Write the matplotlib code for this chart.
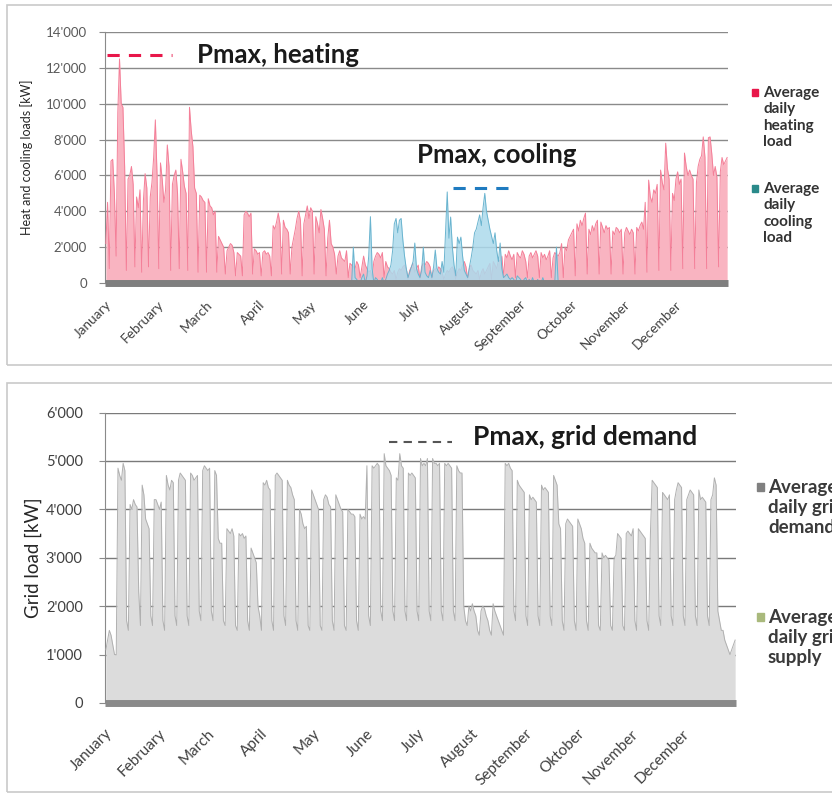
import numpy as np
import matplotlib
matplotlib.use("Agg")
import matplotlib.pyplot as plt
from matplotlib.patches import Rectangle

plt.rcParams['font.family'] = ['Lato', 'DejaVu Sans']

# ---------------- data ----------------
months_top = ["January", "February", "March", "April", "May", "June", "July",
              "August", "September", "October", "November", "December"]
months_bottom = ["January", "February", "March", "April", "May", "June", "July",
                 "August", "September", "Oktober", "November", "December"]
month_start_day = [0, 31, 59, 90, 120, 151, 181, 212, 243, 273, 304, 334]

top_yticks = [0, 2000, 4000, 6000, 8000, 10000, 12000, 14000]
top_yticklabels = ["0", "2'000", "4'000", "6'000", "8'000", "10'000", "12'000", "14'000"]
bottom_yticks = [0, 1000, 2000, 3000, 4000, 5000, 6000]
bottom_yticklabels = ["0", "1'000", "2'000", "3'000", "4'000", "5'000", "6'000"]

# average daily heating load [kW], one value per day
heating = [
    2200, 4500, 800, 6800, 6900, 5000, 1500,
    9500, 12500, 10000, 9800, 6500, 700, 5800,
    6000, 6500, 5500, 900, 4800, 4200, 5200,
    600, 4600, 6100, 5300, 900, 4800, 5600,
    7000, 9100, 6000, 800, 6700, 5800, 4500,
    5200, 7700, 6500, 700, 5500, 6000, 6300,
    5000, 800, 6900, 6200, 5400, 5000, 700,
    9800, 8500, 7600, 5300, 5000, 600, 4900,
    4800, 4600, 4500, 600, 4700, 4300, 4200,
    3800, 4000, 600, 2600, 2400, 2200, 2000,
    500, 1800, 2000, 2200, 2100, 1700, 400,
    1700, 1600, 1500, 400, 3800, 4000, 3900,
    3700, 3900, 500, 1900, 1800, 1600, 1700,
    400, 1700, 1800, 1600, 1700, 1500, 400,
    3200, 3000, 3400, 3900, 3300, 500, 3500,
    3100, 3000, 2800, 500, 2000, 2500, 3000,
    3600, 4000, 3500, 400, 3300, 3800, 4300,
    3600, 4200, 4000, 500, 3700, 3300, 2800,
    4100, 3600, 3000, 400, 2500, 3500, 2200,
    2000, 1600, 500, 1500, 1800, 1400, 1300,
    1200, 1800, 300, 1100, 1000, 900, 800,
    1200, 1000, 300, 900, 1500, 1000, 800,
    600, 700, 300, 1200, 1500, 1700, 1600,
    1400, 1700, 300, 1200, 900, 800, 600,
    500, 700, 200, 600, 800, 700, 900,
    1000, 800, 200, 700, 900, 1100, 600,
    800, 1000, 200, 900, 1100, 1000, 1200,
    1100, 900, 200, 700, 800, 600, 900,
    800, 600, 200, 500, 700, 600, 800,
    900, 700, 200, 600, 800, 700, 1000,
    1200, 900, 200, 800, 1000, 700, 600,
    500, 700, 200, 600, 800, 500, 700,
    900, 1100, 200, 1200, 1000, 800, 1300,
    1200, 1500, 300, 1600, 1400, 1800, 1500,
    1300, 1600, 300, 1700, 1500, 1400, 1800,
    1600, 1200, 300, 1500, 1700, 1400, 1600,
    1800, 1500, 300, 1700, 1400, 1600, 1300,
    1500, 1800, 300, 1400, 1700, 1600, 1500,
    1700, 2200, 300, 2000, 1800, 2400, 2600,
    2800, 3000, 400, 3300, 2900, 3500, 3200,
    3600, 3900, 500, 3000, 2700, 3200, 2900,
    3300, 3500, 500, 3400, 3100, 2800, 3200,
    3000, 3100, 500, 2900, 2700, 3100, 3000,
    2800, 3000, 500, 2800, 3100, 2900, 2700,
    3000, 2800, 500, 3100, 2900, 3200, 3400,
    3000, 4500, 600, 5740, 4800, 4500, 5200,
    5000, 5500, 700, 6300, 5600, 5200, 7800,
    6400, 5800, 700, 5000, 4600, 5800, 6200,
    5500, 5800, 800, 7250, 6500, 6000, 6300,
    6000, 5800, 800, 5600, 6500, 6900, 7100,
    8150, 7000, 800, 8100, 8150, 7200, 6000,
    6500, 5900, 900, 6200, 7000, 6600, 6800,
    7000,
]

# average daily cooling load [kW], days 140..265 (zero otherwise)
cooling_first_day = 140
cooling = [
    0, 0, 0, 0, 0, 2000, 300,
    200, 0, 0, 300, 500, 0, 400,
    1500, 3700, 800, 0, 300, 200, 0,
    0, 300, 0, 200, 500, 700, 1000,
    1800, 3300, 3600, 2800, 3500, 3600, 2400,
    1500, 800, 300, 600, 900, 1200, 2230,
    800, 500, 300, 700, 2000, 600, 400,
    300, 700, 300, 900, 1840, 800, 600,
    500, 1200, 600, 2800, 5080, 2500, 3680,
    2000, 1000, 400, 2560, 2200, 2560, 1500,
    700, 500, 300, 900, 1400, 2000, 2800,
    3000, 3400, 3800, 3200, 4200, 5000, 4000,
    3500, 3000, 2600, 2200, 2800, 1800, 1200,
    2230, 800, 300, 400, 500, 300, 200,
    300, 200, 0, 400, 300, 200, 0,
    200, 300, 0, 200, 0, 300, 0,
    0, 200, 0, 0, 300, 0, 0,
    0, 0, 0, 0, 0, 2000, 0,
]

# average daily grid demand [kW], one value per day
grid = [
    1100, 1300, 1500, 1400, 1200, 1000, 1000,
    4850, 4700, 4600, 4950, 4800, 1700, 1500,
    4100, 4000, 4200, 4100, 4050, 2300, 1600,
    4500, 4300, 3800, 3700, 3600, 1800, 1600,
    4200, 4200, 4100, 4000, 4150, 1700, 1500,
    4700, 4500, 4400, 4600, 4550, 1800, 1600,
    4600, 4750, 4700, 4650, 4600, 1800, 1600,
    4750, 4700, 4600, 4650, 4700, 1900, 1700,
    4800, 4900, 4850, 4800, 4850, 1900, 1700,
    4800, 4700, 3400, 3300, 3300, 1700, 1600,
    3600, 3550, 3500, 3600, 3450, 1600, 1500,
    3500, 3450, 3500, 3400, 3450, 1700, 1500,
    3200, 3100, 3000, 2900, 2000, 1800, 1500,
    4550, 4500, 4600, 4450, 4400, 1700, 1500,
    4700, 4750, 4700, 4650, 4600, 1800, 1600,
    4600, 4500, 4450, 4300, 4200, 1700, 1500,
    4000, 3900, 3700, 3600, 3650, 1600, 1500,
    4400, 4300, 4200, 4100, 4000, 1600, 1500,
    4200, 4300, 4250, 4100, 4050, 1700, 1500,
    4300, 4200, 4100, 4000, 3950, 1600, 1500,
    4000, 3950, 3900, 3900, 3850, 1700, 1500,
    3900, 3800, 3850, 3800, 4900, 1800, 1600,
    4900, 4850, 4900, 4950, 4900, 1900, 1700,
    5150, 4900, 4850, 4800, 4700, 1900, 1700,
    4650, 4600, 5150, 4900, 4850, 1900, 1700,
    4750, 4700, 4750, 4700, 4650, 1900, 1700,
    5050, 4900, 4950, 4900, 5050, 1900, 1700,
    5050, 4950, 4950, 4900, 4950, 1900, 1700,
    4950, 4900, 4950, 4900, 4850, 1900, 1700,
    4900, 4800, 4750, 4750, 2000, 1700, 1600,
    2000, 1900, 2050, 1900, 1800, 1500, 1400,
    1900, 2000, 1950, 1800, 1700, 1500, 1400,
    2050, 1900, 1800, 1700, 1600, 1500, 1400,
    4950, 4900, 4950, 4850, 4800, 1900, 1700,
    4600, 4500, 4450, 4400, 4350, 1800, 1600,
    4300, 4200, 4250, 4200, 4150, 1800, 1600,
    4500, 4400, 4450, 4400, 4350, 1800, 1600,
    4700, 4600, 4500, 3700, 3600, 1700, 1500,
    3700, 3800, 3750, 3700, 3650, 1700, 1500,
    3800, 3700, 3600, 3400, 3300, 1700, 1500,
    3300, 3200, 3150, 3100, 3100, 1600, 1500,
    3100, 3000, 3050, 3000, 2950, 1600, 1500,
    3000, 3050, 3500, 3450, 3400, 1600, 1500,
    3500, 3550, 3500, 3450, 3600, 1700, 1500,
    3600, 3550, 3500, 3450, 3400, 1700, 1500,
    3500, 4600, 4550, 4500, 4450, 1800, 1600,
    4350, 4300, 4250, 4200, 4300, 1800, 1600,
    4200, 4400, 4550, 4500, 4450, 1800, 1600,
    4200, 4300, 4400, 4350, 4300, 1800, 1600,
    4400, 4200, 4250, 4200, 4150, 1800, 1600,
    4200, 4300, 4650, 4500, 1900, 1700, 1500,
    1500, 1300, 1200, 1100, 1000, 1100, 1200,
    1300,
]

pmax_heating = 12700
pmax_cooling = 5300
pmax_grid = 5400

# ---------------- figure ----------------
W, H = 832, 794
fig = plt.figure(figsize=(W / 100, H / 100), dpi=100)
fig.patch.set_facecolor("white")


def fx(px):
    return px / W


def fy(py):
    return 1 - py / H


# panel frames
fig.patches.append(Rectangle((fx(7), fy(365)), fx(900 - 7), (365 - 5) / H,
                             transform=fig.transFigure, fill=False,
                             edgecolor="#c9c9c9", lw=1.2))
fig.patches.append(Rectangle((fx(7), fy(792)), fx(900 - 7), (792 - 383) / H,
                             transform=fig.transFigure, fill=False,
                             edgecolor="#c9c9c9", lw=1.2))

n_days = len(heating)
days = np.arange(n_days) + 0.5

# ---------------- top panel ----------------
ax1 = fig.add_axes([fx(105), fy(283), fx(728 - 105), (283 - 32) / H])
ax1.set_xlim(0, 365)
ax1.set_ylim(0, 14000)
for v in top_yticks:
    ax1.axhline(v, color="#8a8a8a", lw=1.0, zorder=1)

heat = np.array(heating, dtype=float)
ax1.fill_between(days, heat, color="#f9b4c1", lw=0, zorder=2)
ax1.plot(days, heat, color="#f47f98", lw=0.7, zorder=3)

cd = np.arange(cooling_first_day, cooling_first_day + len(cooling)) + 0.5
ax1.fill_between(cd, cooling, color="#acdaec", lw=0, alpha=0.85, zorder=4)
ax1.plot(cd, cooling, color="#6ab4cf", lw=0.7, zorder=5)

ax1.plot([0, 365], [0, 0], color="#7f7f7f", lw=5, zorder=6, clip_on=False,
         solid_capstyle="butt")

ax1.plot([1, 39], [pmax_heating, pmax_heating], color="#e8174a", lw=2.2,
         dashes=(4, 3), zorder=7)
ax1.plot([204, 241], [pmax_cooling, pmax_cooling], color="#1f7bc0", lw=2.2,
         dashes=(4, 3), zorder=7)
ax1.text(54, pmax_heating, "Pmax, heating", fontsize=18.5, fontweight="bold",
         color="#1a1a1a", va="center", ha="left", zorder=8)
ax1.text(183, 7150, "Pmax, cooling", fontsize=18.5, fontweight="bold",
         color="#1a1a1a", va="center", ha="left", zorder=8)

ax1.set_yticks(top_yticks)
ax1.set_yticklabels(top_yticklabels, fontsize=9.5, color="#595959")
ax1.set_xticks(month_start_day)
ax1.set_xticklabels(months_top, rotation=45, ha="right", rotation_mode="anchor",
                    fontsize=9.8, color="#404040")
ax1.tick_params(axis="y", length=4, color="#8a8a8a", pad=9)
ax1.tick_params(axis="x", length=0, pad=11)
for s in ["top", "right", "bottom"]:
    ax1.spines[s].set_visible(False)
ax1.spines["left"].set_color("#8a8a8a")
ax1.set_ylabel("Heat and cooling loads [kW]", fontsize=9, color="#262626",
               labelpad=9)
ax1.set_facecolor("none")

# top legend
fig.patches.append(Rectangle((fx(752), fy(96)), fx(6), 7 / H,
                             transform=fig.transFigure, color="#e8174a"))
fig.text(fx(763), fy(86), "Average\ndaily\nheating\nload", fontsize=11,
         fontweight="bold", color="#333333", va="top", ha="left",
         linespacing=1.22)
fig.patches.append(Rectangle((fx(752), fy(192)), fx(6), 7 / H,
                             transform=fig.transFigure, color="#2a8a8a"))
fig.text(fx(763), fy(182), "Average\ndaily\ncooling\nload", fontsize=11,
         fontweight="bold", color="#333333", va="top", ha="left",
         linespacing=1.22)

# ---------------- bottom panel ----------------
ax2 = fig.add_axes([fx(105), fy(703), fx(736 - 105), (703 - 412.5) / H])
ax2.set_xlim(0, 365)
ax2.set_ylim(0, 6000)
for v in bottom_yticks:
    ax2.axhline(v, color="#7a7a7a", lw=1.0, zorder=1)

g = np.array(grid, dtype=float)
ax2.fill_between(days, g, color="#dcdcdc", lw=0, zorder=2)
ax2.plot(days, g, color="#b0b0b0", lw=0.7, zorder=3)
ax2.plot([0, 365], [0, 0], color="#8a8a8a", lw=5, zorder=6, clip_on=False,
         solid_capstyle="butt")

ax2.plot([164, 201], [pmax_grid, pmax_grid], color="#555555", lw=1.5,
         dashes=(4, 3), zorder=7)
ax2.text(213, 5500, "Pmax, grid demand", fontsize=19, fontweight="bold",
         color="#1a1a1a", va="center", ha="left", zorder=8)

ax2.set_yticks(bottom_yticks)
ax2.set_yticklabels(bottom_yticklabels, fontsize=10.5, color="#404040")
ax2.set_xticks(month_start_day)
ax2.set_xticklabels(months_bottom, rotation=45, ha="right", rotation_mode="anchor",
                    fontsize=11, color="#404040")
ax2.tick_params(axis="y", length=4, color="#8a8a8a", pad=12)
ax2.tick_params(axis="x", length=0, pad=17)
for s in ["top", "right", "bottom"]:
    ax2.spines[s].set_visible(False)
ax2.spines["left"].set_color("#8a8a8a")
ax2.set_ylabel("Grid load [kW]", fontsize=13.5, color="#262626", labelpad=3)
ax2.set_facecolor("none")

# bottom legend
fig.patches.append(Rectangle((fx(757), fy(491)), fx(7), 8 / H,
                             transform=fig.transFigure, color="#808080"))
fig.text(fx(768), fy(479), "Average\ndaily grid\ndemand", fontsize=13.5,
         fontweight="bold", color="#3a3a3a", va="top", ha="left",
         linespacing=1.2)
fig.patches.append(Rectangle((fx(757), fy(621)), fx(7), 8 / H,
                             transform=fig.transFigure, color="#a9b97c"))
fig.text(fx(768), fy(609), "Average\ndaily grid\nsupply", fontsize=13.5,
         fontweight="bold", color="#3a3a3a", va="top", ha="left",
         linespacing=1.2)

fig.savefig("out.png", dpi=100, facecolor="white")
